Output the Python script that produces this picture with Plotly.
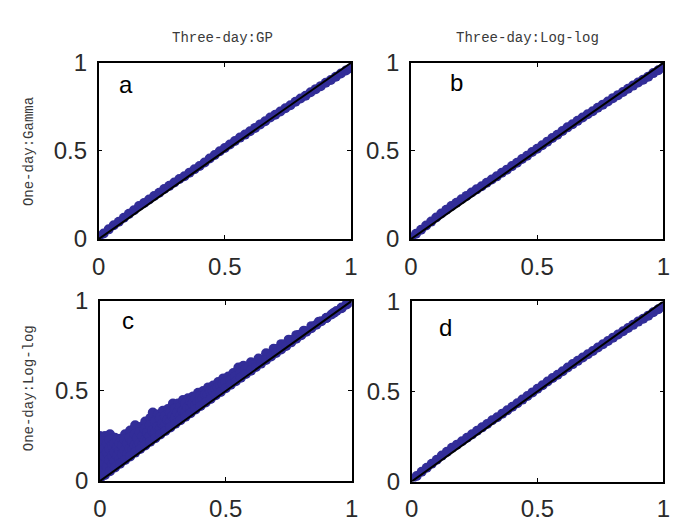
import plotly.graph_objects as go

# ---- data ----
col_titles = ["Three-day:GP", "Three-day:Log-log"]
row_titles = ["One-day:Gamma", "One-day:Log-log"]
panel_labels = ["a", "b", "c", "d"]
tick_vals = [0, 0.5, 1]
tick_text = ["0", "0.5", "1"]
ref_x = [0, 1]
ref_y = [0, 1]

x_band = [0.00, 0.02, 0.04, 0.06, 0.08, 0.10, 0.12, 0.14, 0.16, 0.18,
          0.20, 0.22, 0.24, 0.26, 0.28, 0.30, 0.32, 0.34, 0.36, 0.38,
          0.40, 0.42, 0.44, 0.46, 0.48, 0.50, 0.52, 0.54, 0.56, 0.58,
          0.60, 0.62, 0.64, 0.66, 0.68, 0.70, 0.72, 0.74, 0.76, 0.78,
          0.80, 0.82, 0.84, 0.86, 0.88, 0.90, 0.92, 0.94, 0.96, 0.98, 1.00]

y_a = [0.010, 0.032, 0.055, 0.078, 0.098, 0.121, 0.143, 0.164, 0.188, 0.205,
       0.225, 0.244, 0.263, 0.284, 0.302, 0.321, 0.341, 0.357, 0.377, 0.396,
       0.415, 0.435, 0.457, 0.477, 0.498, 0.517, 0.537, 0.557, 0.576, 0.593,
       0.612, 0.631, 0.651, 0.669, 0.690, 0.706, 0.724, 0.743, 0.760, 0.779,
       0.798, 0.814, 0.833, 0.851, 0.868, 0.887, 0.903, 0.921, 0.940, 0.957, 0.970]

y_b = [0.008, 0.030, 0.053, 0.077, 0.099, 0.122, 0.145, 0.166, 0.187, 0.206,
       0.226, 0.245, 0.264, 0.282, 0.300, 0.320, 0.338, 0.356, 0.376, 0.394,
       0.414, 0.433, 0.454, 0.473, 0.494, 0.513, 0.533, 0.553, 0.574, 0.592,
       0.613, 0.634, 0.652, 0.671, 0.690, 0.708, 0.726, 0.745, 0.763, 0.781,
       0.800, 0.817, 0.835, 0.853, 0.871, 0.889, 0.905, 0.922, 0.942, 0.958, 0.974]

y_c = [0.012, 0.034, 0.055, 0.075, 0.096, 0.117, 0.137, 0.158, 0.178, 0.198,
       0.218, 0.238, 0.258, 0.278, 0.298, 0.318, 0.338, 0.357, 0.377, 0.397,
       0.417, 0.436, 0.456, 0.476, 0.495, 0.515, 0.535, 0.554, 0.574, 0.594,
       0.613, 0.633, 0.652, 0.672, 0.692, 0.711, 0.731, 0.750, 0.770, 0.790,
       0.809, 0.829, 0.848, 0.868, 0.887, 0.906, 0.925, 0.944, 0.963, 0.982, 0.995]

# panel c: upper edge of the scatter cloud
x_c_top = [0.00, 0.01, 0.02, 0.04, 0.06, 0.08, 0.10, 0.12, 0.14, 0.16,
           0.18, 0.20, 0.21, 0.23, 0.25, 0.27, 0.29, 0.31, 0.33, 0.35,
           0.37, 0.39, 0.41, 0.43, 0.45, 0.47, 0.49, 0.51, 0.53, 0.55,
           0.57, 0.60, 0.63, 0.66, 0.69, 0.72, 0.75, 0.78, 0.81, 0.84,
           0.87, 0.90, 0.93, 0.96, 0.98]
y_c_top = [0.25, 0.24, 0.25, 0.26, 0.24, 0.235, 0.26, 0.28, 0.31, 0.30,
           0.33, 0.35, 0.38, 0.37, 0.39, 0.40, 0.43, 0.43, 0.45, 0.46,
           0.47, 0.49, 0.50, 0.52, 0.53, 0.55, 0.57, 0.58, 0.60, 0.63,
           0.64, 0.66, 0.68, 0.71, 0.735, 0.76, 0.785, 0.81, 0.835, 0.86,
           0.885, 0.905, 0.935, 0.96, 0.98]

# panel c: interior of the scatter cloud
x_c_mid = [0.00, 0.00, 0.00, 0.00, 0.01, 0.01, 0.01, 0.02, 0.02, 0.02,
           0.03, 0.03, 0.03, 0.04, 0.04, 0.04, 0.05, 0.05, 0.05, 0.06,
           0.06, 0.06, 0.07, 0.07, 0.07, 0.08, 0.08, 0.08, 0.09, 0.09,
           0.10, 0.10, 0.11, 0.11, 0.12, 0.12, 0.13, 0.13, 0.14, 0.14,
           0.15, 0.15, 0.16, 0.16, 0.17, 0.17, 0.18, 0.18, 0.19, 0.19,
           0.20, 0.20, 0.21, 0.22, 0.22, 0.23, 0.24, 0.24, 0.25, 0.26,
           0.26, 0.27, 0.28, 0.28, 0.29, 0.30, 0.30, 0.31, 0.32, 0.32,
           0.33, 0.34, 0.34, 0.35, 0.36, 0.36, 0.37, 0.38, 0.38, 0.39,
           0.40, 0.40, 0.41, 0.42, 0.43, 0.44, 0.45, 0.46, 0.47, 0.48,
           0.49, 0.50, 0.52, 0.54, 0.56, 0.58, 0.61, 0.64, 0.67, 0.70,
           0.73, 0.76, 0.79]
y_c_mid = [0.20, 0.16, 0.11, 0.06, 0.22, 0.13, 0.04, 0.18, 0.10, 0.14,
           0.21, 0.16, 0.08, 0.23, 0.12, 0.18, 0.20, 0.14, 0.09, 0.21,
           0.16, 0.11, 0.19, 0.14, 0.23, 0.17, 0.12, 0.21, 0.20, 0.15,
           0.23, 0.17, 0.21, 0.15, 0.24, 0.18, 0.22, 0.17, 0.26, 0.20,
           0.24, 0.19, 0.27, 0.21, 0.25, 0.20, 0.29, 0.23, 0.27, 0.22,
           0.31, 0.25, 0.28, 0.33, 0.27, 0.30, 0.35, 0.29, 0.32, 0.36,
           0.31, 0.34, 0.38, 0.33, 0.36, 0.40, 0.35, 0.38, 0.41, 0.36,
           0.39, 0.43, 0.38, 0.41, 0.44, 0.40, 0.43, 0.46, 0.42, 0.44,
           0.47, 0.44, 0.46, 0.48, 0.48, 0.50, 0.50, 0.51, 0.52, 0.53,
           0.54, 0.55, 0.56, 0.58, 0.60, 0.62, 0.64, 0.67, 0.70, 0.73,
           0.755, 0.78, 0.81]

y_d = [0.009, 0.031, 0.054, 0.077, 0.099, 0.121, 0.144, 0.165, 0.187, 0.205,
       0.224, 0.243, 0.262, 0.282, 0.301, 0.320, 0.340, 0.357, 0.377, 0.396,
       0.415, 0.435, 0.455, 0.475, 0.495, 0.515, 0.535, 0.555, 0.575, 0.593,
       0.612, 0.633, 0.652, 0.670, 0.689, 0.707, 0.725, 0.744, 0.762, 0.780,
       0.799, 0.816, 0.834, 0.852, 0.870, 0.888, 0.904, 0.921, 0.940, 0.957, 0.972]

# ---- figure ----
W, H = 673, 526
dot = "rgb(50,45,152)"
fig = go.Figure()

domains = {
    1: ([0.139, 0.522], [0.549, 0.902]),
    2: ([0.613, 0.996], [0.549, 0.902]),
    3: ([0.141, 0.523], [0.064, 0.425]),
    4: ([0.614, 0.996], [0.063, 0.424]),
}

series = {
    1: [(x_band, y_a, 10)],
    2: [(x_band, y_b, 10)],
    3: [(x_c_top, y_c_top, 10), (x_c_mid, y_c_mid, 11), (x_band, y_c, 10)],
    4: [(x_band, y_d, 10)],
}

label_pos = {1: (0.109, 0.876), 2: (0.182, 0.89), 3: (0.11, 0.894), 4: (0.134, 0.858)}

for i in range(1, 5):
    xa = "x" if i == 1 else f"x{i}"
    ya = "y" if i == 1 else f"y{i}"
    for xs, ys, sz in series[i]:
        fig.add_trace(go.Scatter(x=xs, y=ys, mode="markers", xaxis=xa, yaxis=ya,
                                 marker=dict(color=dot, size=sz, line=dict(width=0)),
                                 showlegend=False, hoverinfo="skip"))
    fig.add_trace(go.Scatter(x=ref_x, y=ref_y, mode="lines", xaxis=xa, yaxis=ya,
                             line=dict(color="black", width=2),
                             showlegend=False, hoverinfo="skip"))
    common = dict(range=[0, 1], tickvals=tick_vals, ticktext=tick_text,
                  showline=True, linecolor="black", linewidth=1.5, mirror="ticks",
                  ticks="inside", ticklen=4, tickwidth=1, tickcolor="black",
                  showgrid=False, zeroline=False, ticklabelstandoff=5,
                  tickfont=dict(family="Arial, Liberation Sans", size=24, color="#2a2a2a"))
    xk = "xaxis" if i == 1 else f"xaxis{i}"
    yk = "yaxis" if i == 1 else f"yaxis{i}"
    fig.update_layout({
        xk: dict(domain=domains[i][0], anchor=ya, **common),
        yk: dict(domain=domains[i][1], anchor=xa, **common),
    })
    lx, ly = label_pos[i]
    fig.add_annotation(x=lx, y=ly, xref=xa, yref=ya, text=panel_labels[i - 1],
                       showarrow=False, xanchor="center", yanchor="middle",
                       font=dict(family="Arial, Liberation Sans", size=24, color="black"))

mono = dict(family="Liberation Mono, DejaVu Sans Mono", size=14, color="#3a3a3a")
fig.add_annotation(x=220 / W, y=1 - 25 / H, xref="paper", yref="paper", text=col_titles[0],
                   showarrow=False, font=mono, xanchor="center", yanchor="middle")
fig.add_annotation(x=532 / W, y=1 - 25 / H, xref="paper", yref="paper", text=col_titles[1],
                   showarrow=False, font=mono, xanchor="center", yanchor="middle")
fig.add_annotation(x=22 / W, y=1 - 145 / H, xref="paper", yref="paper", text=row_titles[0],
                   showarrow=False, font=mono, textangle=-90, xanchor="center", yanchor="middle")
fig.add_annotation(x=22 / W, y=1 - 395 / H, xref="paper", yref="paper", text=row_titles[1],
                   showarrow=False, font=mono, textangle=-90, xanchor="center", yanchor="middle")

fig.update_layout(width=W, height=H, margin=dict(l=0, r=0, t=0, b=0),
                  paper_bgcolor="white", plot_bgcolor="white")

fig.write_html("out.html")
